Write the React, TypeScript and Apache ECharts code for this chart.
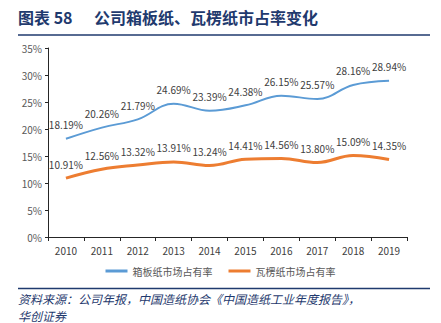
import React, { useEffect, useRef } from "react";
import * as echarts from "echarts";

const years = ["2010", "2011", "2012", "2013", "2014", "2015", "2016", "2017", "2018", "2019"];
const boxboard = [18.19, 20.26, 21.79, 24.69, 23.39, 24.38, 26.15, 25.57, 28.16, 28.94];
const corrugated = [10.91, 12.56, 13.32, 13.91, 13.24, 14.41, 14.56, 13.8, 15.09, 14.35];
const seriesNames = ["箱板纸市场占有率", "瓦楞纸市场占有率"];

const titleText = "图表 58";
const titleMain = "公司箱板纸、瓦楞纸市占率变化";
const sourceLine1 = "资料来源：公司年报，中国造纸协会《中国造纸工业年度报告》，";
const sourceLine2 = "华创证券";

export default function App() {
  const ref = useRef<HTMLDivElement>(null);
  useEffect(() => {
    const chart = echarts.init(ref.current!, null, { renderer: "svg" });
    const cjk = "'Noto Sans CJK SC', sans-serif";
    const navy = "#1F3A6E";
    const labelCfg = {
      show: true,
      position: "top",
      distance: 9,
      fontSize: 10,
      fontWeight: "normal",
      color: "#404040",
      formatter: (p: any) => p.value.toFixed(2) + "%",
    };
    const srcStyle = {
      fontFamily: cjk,
      fontSize: 12,
      fontStyle: "italic",
      lineHeight: 16,
      fill: navy,
    };
    chart.setOption({
      animation: false,
      backgroundColor: "#ffffff",
      textStyle: { fontFamily: cjk },
      grid: { left: 48, right: 34, top: 48, bottom: 86 },
      legend: {
        bottom: 42,
        left: "center",
        itemWidth: 22,
        itemHeight: 3,
        itemGap: 16,
        icon: "rect",
        textStyle: { fontSize: 10, color: "#595959", fontFamily: cjk },
        data: seriesNames,
      },
      xAxis: {
        type: "category",
        data: years,
        boundaryGap: true,
        axisLine: { lineStyle: { color: "#262626", width: 1 } },
        axisTick: { show: true, alignWithLabel: false, length: 4, lineStyle: { color: "#262626" } },
        axisLabel: { fontSize: 10, color: "#404040", margin: 8 },
      },
      yAxis: {
        type: "value",
        min: 0,
        max: 35,
        interval: 5,
        axisLine: { show: true, lineStyle: { color: "#262626", width: 1 } },
        axisTick: { show: true, length: 3, lineStyle: { color: "#262626" } },
        splitLine: { show: false },
        axisLabel: { fontSize: 10, color: "#595959", margin: 6, formatter: "{value}%" },
      },
      series: [
        {
          name: seriesNames[0],
          type: "line",
          data: boxboard,
          smooth: 0.4,
          symbol: "circle",
          symbolSize: 0,
          showSymbol: true,
          lineStyle: { color: "#5B9BD5", width: 2 },
          itemStyle: { color: "#5B9BD5" },
          label: labelCfg,
        },
        {
          name: seriesNames[1],
          type: "line",
          data: corrugated,
          smooth: 0.4,
          symbol: "circle",
          symbolSize: 0,
          showSymbol: true,
          lineStyle: { color: "#ED7D31", width: 3 },
          itemStyle: { color: "#ED7D31" },
          label: labelCfg,
        },
      ],
      graphic: [
        {
          type: "text",
          left: 18,
          top: 9,
          style: { text: titleText, font: "bold 16px 'Noto Sans CJK SC', serif", fill: navy },
        },
        {
          type: "text",
          left: 94,
          top: 9,
          style: { text: titleMain, font: "bold 16px 'Noto Sans CJK SC', serif", fill: navy },
        },
        {
          type: "line",
          shape: { x1: 18, y1: 35, x2: 430, y2: 35 },
          style: { stroke: navy, lineWidth: 1.5 },
        },
        {
          type: "line",
          shape: { x1: 18, y1: 288.5, x2: 430, y2: 288.5 },
          style: { stroke: navy, lineWidth: 1.5 },
        },
        {
          type: "text",
          left: 18,
          top: 290,
          style: { ...srcStyle, text: sourceLine1 },
        },
        {
          type: "text",
          left: 18,
          top: 307,
          style: { ...srcStyle, text: sourceLine2 },
        },
      ],
    });
    return () => chart.dispose();
  }, []);
  return (
    <div
      ref={ref}
      style={{ position: "fixed", left: 0, top: 0, width: 441, height: 323 }}
    />
  );
}
